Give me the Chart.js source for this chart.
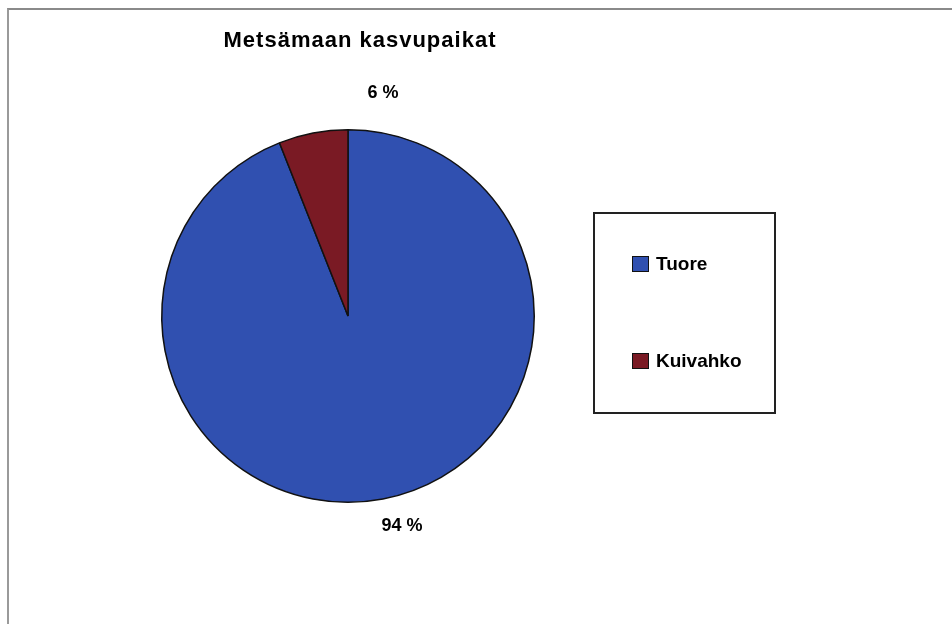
<!DOCTYPE html>
<html>
<head>
<meta charset="utf-8">
<script src="https://cdn.jsdelivr.net/npm/chart.js@4"></script>
<style>
  html, body { margin: 0; padding: 0; background: #fff; }
  #wrap { position: relative; width: 952px; height: 624px; }
  #frame { position: absolute; left: 7px; top: 8px; width: 960px; height: 640px;
           border-top: 2px solid #8a8a8a; border-left: 2px solid #9a9a9a; }
  canvas { position: absolute; left: 0; top: 0; }
</style>
</head>
<body>
<div id="wrap">
  <div id="frame"></div>
  <canvas id="my-chart" width="952" height="624"></canvas>
</div>
<script>
const title = 'Metsämaan kasvupaikat';
const labels = ['Tuore', 'Kuivahko'];
const values = [94, 6];
const colors = ['#3050b0', '#7a1a24'];

const font = '"Liberation Sans", Arial, sans-serif';

// title, percent labels and boxed legend, drawn on the canvas
const decor = {
    id: 'decor',
    afterDraw(chart) {
        const c = chart.ctx;
        const arcs = chart.getDatasetMeta(0).data;
        const cx = arcs[0].x, cy = arcs[0].y, r = arcs[0].outerRadius;
        c.save();
        c.fillStyle = '#000';
        c.textAlign = 'center';
        c.textBaseline = 'middle';
        c.font = 'bold 22px ' + font;
        c.letterSpacing = '1px';
        c.fillText(title, 360, 41);

        c.font = 'bold 18px ' + font;
        c.letterSpacing = '0px';
        c.fillText(values[1] + ' %', cx + 35, cy - r - 37);
        c.fillText(values[0] + ' %', cx + 54, cy + r + 24);

        // legend box
        c.strokeStyle = '#222';
        c.lineWidth = 2;
        c.strokeRect(594, 213, 181, 200);
        c.textAlign = 'left';
        c.font = 'bold 19px ' + font;
        const rows = [264, 361];
        labels.forEach((l, i) => {
            c.fillStyle = colors[i];
            c.fillRect(632, rows[i] - 8, 17, 16);
            c.strokeStyle = '#111';
            c.lineWidth = 1;
            c.strokeRect(632.5, rows[i] - 7.5, 16, 15);
            c.fillStyle = '#000';
            c.fillText(l, 656, rows[i] + 1);
        });
        c.restore();
    }
};

let ctx = document.querySelector('#my-chart').getContext('2d');
let myChart = new Chart(ctx, {
    type: 'pie',
    data: {
        labels: labels,
        datasets: [{
            data: values,
            backgroundColor: colors,
            borderColor: '#111',
            borderWidth: 1.5
        }]
    },
    options: {
        responsive: false,
        animation: false,
        layout: {
            padding: { left: 161, right: 417, top: 129, bottom: 121 }
        },
        plugins: {
            legend: { display: false },
            tooltip: { enabled: false }
        }
    },
    plugins: [decor]
});
</script>
</body>
</html>
